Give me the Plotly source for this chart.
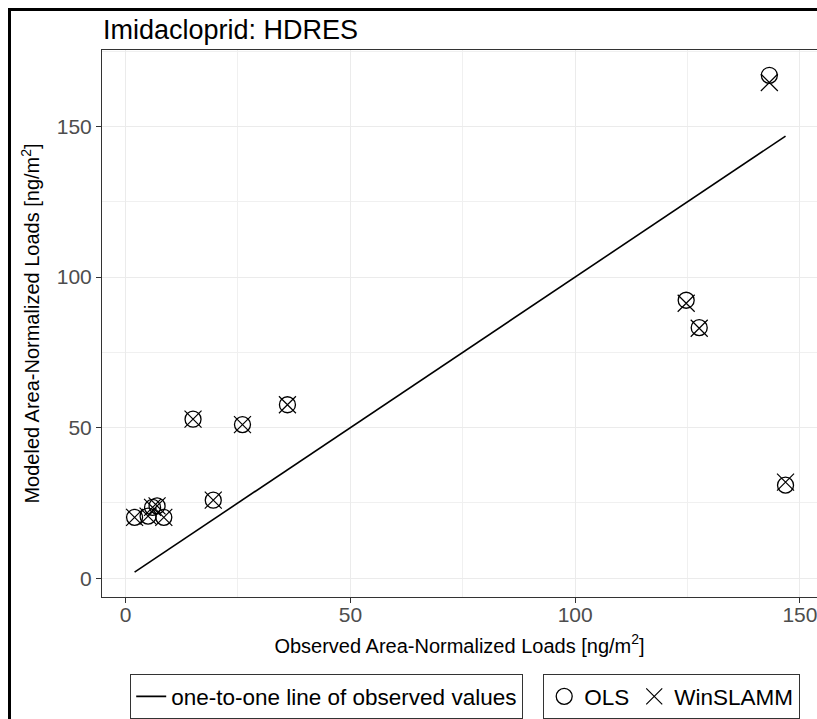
import plotly.graph_objects as go

# ---- data ----
observed = [2.0, 5.0, 6.0, 7.0, 8.5, 15.0, 19.5, 26.0, 36.0, 124.7, 127.6, 143.2, 146.8]
ols_modeled = [20.2, 20.6, 23.5, 24.0, 20.2, 52.8, 25.9, 51.0, 57.6, 92.3, 83.2, 167.0, 30.9]
winslamm_modeled = [20.2, 20.6, 23.5, 24.0, 20.2, 52.8, 25.9, 51.0, 57.6, 91.3, 83.0, 164.6, 31.9]

x_ticks = [0, 50, 100, 150]
y_ticks = [0, 50, 100, 150]

title_text = "Imidacloprid: HDRES"
x_title = "Observed Area-Normalized Loads [ng/m<sup>2</sup>]"
y_title = "Modeled Area-Normalized Loads [ng/m<sup>2</sup>]"

FONT = "Liberation Sans, Arial, Helvetica, sans-serif"

line_x = [min(observed), max(observed)]

fig = go.Figure()
fig.add_trace(go.Scatter(
    x=line_x, y=line_x, mode="lines",
    line=dict(color="black", width=1.6),
    name="one-to-one line of observed values", legend="legend", showlegend=True,
))
fig.add_trace(go.Scatter(
    x=observed, y=ols_modeled, mode="markers",
    marker=dict(symbol="circle-open", size=16, color="black", line=dict(width=1.3, color="black")),
    name="OLS", legend="legend2", showlegend=True,
))
fig.add_trace(go.Scatter(
    x=observed, y=winslamm_modeled, mode="markers",
    marker=dict(symbol="x-thin-open", size=17, color="black", line=dict(width=1.2, color="black")),
    name="WinSLAMM", legend="legend2", showlegend=True,
))

W, H = 817, 719
L, R, T, B = 102, 0, 50, 121
pw = W - L - R
ph = H - T - B

def px_x(p):
    return (p - L) / pw

def px_y(p):
    return (H - B - p) / ph

axis_common = dict(
    showgrid=True, gridcolor="#ebebeb", gridwidth=1.3,
    zeroline=False,
    showline=True, linecolor="#333333", linewidth=1,
    ticks="outside", ticklen=5, tickcolor="#333333", tickwidth=1,
    tickfont=dict(family=FONT, size=21, color="#4d4d4d"),
    ticklabeloverflow="allow",
    minor=dict(showgrid=True, tick0=0, dtick=25, gridcolor="#f0f0f0", gridwidth=0.8),
)

legend_font = dict(family=FONT, size=22.5, color="black")

fig.update_layout(
    width=W, height=H,
    margin=dict(l=L, r=R, t=T, b=B),
    paper_bgcolor="white", plot_bgcolor="white",
    font=dict(family=FONT, color="black"),
    showlegend=True,
    title=dict(text=title_text, font=dict(family=FONT, size=27, color="black"),
               x=103 / W, xanchor="left", xref="container",
               y=1 - 30 / H, yanchor="middle", yref="container"),
    xaxis=dict(range=[-5.25, 153.8], tickvals=x_ticks, ticklabelstandoff=-6, mirror=True,
               title=dict(text=x_title, font=dict(family=FONT, size=20, color="black"), standoff=13),
               **axis_common),
    yaxis=dict(range=[-6.25, 175.4], tickvals=y_ticks, mirror=False,
               title=dict(text=y_title, font=dict(family=FONT, size=20, color="black"), standoff=11),
               **axis_common),
    legend=dict(orientation="h", x=px_x(130), y=px_y(675), xanchor="left", yanchor="top",
                bordercolor="#333333", borderwidth=1.2, bgcolor="white", visible=True,
                font=legend_font, itemwidth=30),
    legend2=dict(orientation="h", x=px_x(543), y=px_y(675), xanchor="left", yanchor="top",
                 bordercolor="#333333", borderwidth=1.2, bgcolor="white", visible=True,
                 font=legend_font, itemwidth=30),
    shapes=[dict(type="rect", xref="paper", yref="paper",
                 x0=px_x(9.5), x1=px_x(860), y0=px_y(760), y1=px_y(9.5),
                 line=dict(color="black", width=3), fillcolor="rgba(0,0,0,0)", layer="above")],
)

# remove the default 8px page margin so the 817x719 figure fills the window exactly
page_fix = ("document.body.style.margin='0';"
            "document.body.style.overflow='hidden';"
            "document.documentElement.style.overflow='hidden';")

fig.write_html("out.html", post_script=page_fix, config={"displayModeBar": False})
